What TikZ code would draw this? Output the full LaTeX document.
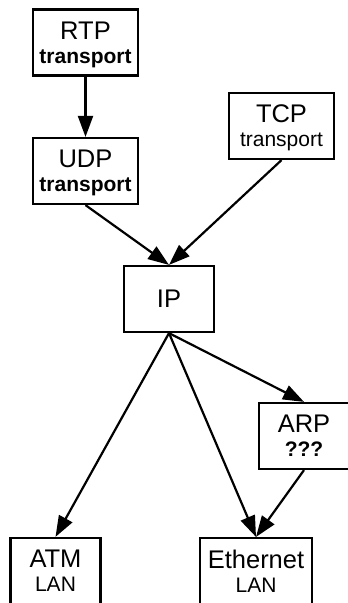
\documentclass[tikz,border=0pt]{standalone}
\usepackage{fontspec}
\setmainfont{Liberation Sans}
\usetikzlibrary{arrows.meta}
\newcommand{\subsz}{\fontsize{21}{24}\selectfont}
\tikzset{
  box/.style={draw, line width=2.2pt, minimum height=66pt, inner sep=0pt, align=center,
    font=\fontsize{25.5}{24}\selectfont, text depth=0pt},
  wide/.style={box, minimum width=105pt},
  narrow/.style={box, minimum width=90pt},
  conn/.style={line width=2.2pt, -{Triangle[length=21pt,width=15pt]}}
}
\begin{document}
\begin{tikzpicture}[x=1pt,y=-1pt]
\clip (0,0) rectangle (348,603);
\node[wide] (rtp) at (85.5,42.5) {RTP\\{\subsz\bfseries transport}};
\node[wide] (udp) at (85.5,171) {UDP\\{\subsz\bfseries transport}};
\node[wide] (tcp) at (281.5,126) {TCP\\{\subsz transport}};
\node[narrow] (ip) at (169,299) {IP};
\node[narrow] (arp) at (304,436) {ARP\\{\subsz\bfseries ???}};
\node[narrow] (atm) at (55.5,571) {ATM\\{\subsz LAN}};
\node[box, minimum width=112pt] (eth) at (256,571) {Ethernet\\{\subsz LAN}};
\draw[conn] (rtp.south) -- (udp.north);
\draw[conn] (udp.south) -- (ip.north);
\draw[conn] (tcp.south) -- (ip.north);
\draw[conn] (ip.south) -- (atm.north);
\draw[conn] (ip.south) -- (eth.north);
\draw[conn] (ip.south) -- (arp.north);
\draw[conn] (arp.south) -- (eth.north);
\end{tikzpicture}
\end{document}
